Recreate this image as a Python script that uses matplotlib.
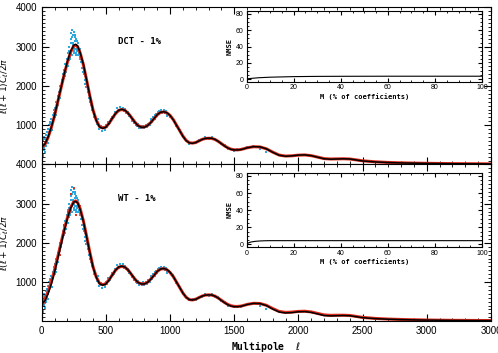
import matplotlib.pyplot as plt
from matplotlib.ticker import MultipleLocator

# theory spectrum (black)
ell = [2, 25, 50, 75, 100, 125, 150, 175, 200, 225, 250, 265, 280, 300, 325, 350, 375,
       400, 425, 450, 475, 500, 525, 550, 575, 600, 625, 650, 675, 700, 725, 750, 775,
       800, 825, 850, 875, 900, 925, 950, 975, 1000, 1025, 1050, 1075, 1100, 1125, 1150,
       1175, 1200, 1225, 1250, 1275, 1300, 1325, 1350, 1375, 1400, 1425, 1450, 1475, 1500,
       1525, 1550, 1575, 1600, 1650, 1700, 1750, 1800, 1850, 1900, 1950, 2000, 2050, 2100,
       2150, 2200, 2250, 2300, 2350, 2400, 2450, 2500, 2600, 2700, 2800, 2900, 3000, 3200, 3500]
dl_theory = [450, 520, 700, 950, 1250, 1600, 1950, 2300, 2620, 2880, 3040, 3060, 3020, 2850,
             2550, 2150, 1750, 1380, 1120, 960, 920, 950, 1050, 1180, 1300, 1385, 1405, 1380,
             1300, 1190, 1080, 990, 950, 950, 990, 1070, 1170, 1270, 1330, 1345, 1320, 1250,
             1140, 1000, 860, 720, 610, 550, 540, 560, 600, 640, 665, 672, 668, 640, 590, 530,
             470, 420, 385, 370, 370, 380, 400, 425, 455, 450, 400, 310, 235, 210, 220, 240,
             245, 225, 185, 145, 135, 140, 145, 140, 115, 90, 65, 50, 40, 33, 28, 20, 14]
# reconstructions (red)
dl_dct = [430, 510, 690, 940, 1240, 1590, 1940, 2290, 2600, 2860, 3020, 3040, 3000, 2840,
          2540, 2150, 1750, 1390, 1130, 970, 930, 955, 1050, 1175, 1295, 1380, 1400, 1375,
          1300, 1195, 1085, 995, 955, 955, 995, 1070, 1165, 1265, 1325, 1340, 1315, 1250,
          1145, 1005, 865, 725, 615, 555, 545, 560, 600, 640, 662, 668, 664, 638, 590, 532,
          474, 425, 390, 375, 372, 382, 402, 426, 452, 448, 400, 315, 240, 215, 222, 238,
          243, 225, 188, 150, 140, 143, 146, 140, 118, 94, 68, 52, 42, 35, 30, 22, 16]
dl_wt = [400, 560, 760, 1000, 1300, 1640, 1990, 2330, 2640, 2900, 3050, 3070, 3030, 2870,
         2560, 2170, 1760, 1390, 1130, 970, 930, 960, 1060, 1180, 1300, 1380, 1400, 1375,
         1300, 1190, 1080, 990, 955, 955, 995, 1075, 1170, 1270, 1330, 1340, 1315, 1245,
         1140, 1000, 860, 720, 612, 552, 542, 562, 602, 642, 666, 672, 666, 640, 592, 534,
         476, 428, 394, 378, 376, 384, 404, 428, 456, 452, 406, 322, 248, 225, 232, 250,
         254, 236, 198, 160, 150, 152, 152, 146, 122, 96, 70, 54, 44, 36, 30, 22, 16]
wt_red_ell = [60, 70, 85, 110, 140, 170, 205, 230, 250, 270, 295, 315]
wt_red_dl = [850, 1050, 1100, 1450, 1700, 2450, 2800, 3250, 3400, 2700, 2950, 2600]

# noisy data (cyan)
cyan_ell = [5, 8, 10, 12, 15, 18, 20, 22, 25, 28, 30, 33, 36, 40, 44, 48, 52, 56, 60, 65, 70,
            75, 80, 85, 90, 95, 100, 105, 110, 115, 120, 125, 130, 135, 140, 145, 150, 155,
            160, 165, 170, 175, 180, 185, 190, 195, 200, 205, 210, 215, 220, 225, 228, 232,
            235, 238, 242, 245, 248, 252, 255, 258, 262, 265, 268, 272, 275, 280, 285, 290,
            295, 300, 305, 310, 315, 320, 325, 330, 335, 340, 345, 350, 360, 370, 380, 390,
            400, 410, 420, 430, 440, 450, 460, 470, 480, 490, 500, 510, 520, 530, 540, 550,
            560, 570, 580, 590, 600, 610, 620, 630, 640, 650, 660, 670, 680, 690, 700, 710,
            720, 730, 740, 750, 760, 770, 780, 790, 800, 810, 820, 830, 840, 850, 860, 870,
            880, 890, 900, 910, 920, 930, 940, 950, 960, 970, 980, 990, 1000, 1025, 1050,
            1075, 1100, 1125, 1150, 1175, 1200, 1225, 1250, 1275, 1300, 1325, 1350, 1375,
            1400, 1425, 1450, 1475, 1500, 1525, 1550, 1600, 1650, 1700, 1750,
            3, 7, 14, 24, 34, 46, 58, 68, 82, 98, 112, 128, 142, 158, 172, 188, 202, 212,
            222, 230, 236, 240, 246, 250, 256, 260, 266, 270, 278, 288, 298, 308, 318, 328,
            338, 355, 365, 385, 405, 435, 465, 495, 525, 555, 585, 615, 645, 675, 705, 735,
            765, 795, 825, 855, 885, 915, 945, 975]
cyan_dl = [300, 620, 250, 520, 380, 700, 420, 560, 330, 640, 480, 760, 540, 820, 600, 900,
           700, 1000, 780, 1080, 900, 1150, 1000, 1250, 1100, 1380, 1200, 1450, 1330, 1600,
           1500, 1750, 1620, 1850, 1800, 2000, 1900, 2150, 2050, 2300, 2200, 2420, 2250, 2550,
           2450, 2700, 2550, 2850, 2650, 3000, 2750, 3200, 2850, 3350, 2950, 3420, 3100, 3300,
           2900, 3380, 3000, 3250, 2950, 3200, 2800, 3150, 2900, 3100, 2800, 2950, 2700, 2950,
           2600, 2800, 2450, 2600, 2350, 2450, 2150, 2250, 1980, 2100, 1850, 1700, 1600, 1400,
           1420, 1200, 1180, 1020, 1060, 900, 980, 860, 960, 880, 1000, 960, 1090, 1060, 1150,
           1220, 1210, 1340, 1300, 1430, 1360, 1460, 1380, 1450, 1360, 1420, 1320, 1340, 1240,
           1250, 1150, 1160, 1060, 1080, 980, 1020, 930, 980, 920, 990, 920, 1000, 960, 1040,
           1010, 1100, 1080, 1200, 1160, 1290, 1240, 1340, 1300, 1380, 1320, 1390, 1310, 1360,
           1280, 1290, 1220, 1170, 980, 880, 700, 630, 530, 560, 540, 620, 620, 690, 650, 700,
           620, 610, 510, 490, 400, 400, 350, 390, 370, 440, 470, 390, 320,
           500, 200, 640, 460, 680, 560, 820, 1020, 880, 1300, 1250, 1520, 1700, 2000, 2300,
           2350, 2500, 2900, 2700, 3100, 2800, 3250, 3050, 2850, 3150, 3300, 2850, 3050, 2950,
           2850, 2750, 2700, 2550, 2300, 2050, 2000, 1780, 1520, 1300, 1150, 920, 920, 1030,
           1180, 1330, 1420, 1400, 1280, 1120, 1000, 940, 960, 1040, 1150, 1260, 1370, 1350,
           1240]

# NMSE insets
m_dct = [0, 0.2, 1, 5, 10, 20, 30, 40, 60, 100]
nmse_dct = [90, 0.3, 0.8, 1.8, 2.5, 3.2, 3.5, 3.6, 3.7, 3.7]
m_wt = [0, 0.2, 1, 2, 4, 6, 8, 10, 20, 100]
nmse_wt = [90, 0.8, 2.0, 2.9, 3.7, 4.1, 4.3, 4.4, 4.4, 4.4]

panels = [("DCT - 1%", dl_dct, None, None, m_dct, nmse_dct),
          ("WT - 1%", dl_wt, wt_red_ell, wt_red_dl, m_wt, nmse_wt)]

plt.rcParams['font.family'] = 'Liberation Sans'
fig = plt.figure(figsize=(4.98, 3.53), dpi=100)

main_pos = [[0.0837, 0.534, 0.9022, 0.4448], [0.0837, 0.0901, 0.9022, 0.4439]]
inset_pos = [[0.495, 0.7686, 0.473, 0.2011], [0.495, 0.3003, 0.473, 0.211]]

for i, (name, red, rx, ry, m, nmse) in enumerate(panels):
    ax = fig.add_axes(main_pos[i])
    ax.scatter(cyan_ell, cyan_dl, s=2.5, color='#2aa8e0', marker='s', linewidths=0, zorder=1)
    if rx is not None:
        ax.scatter(rx, ry, s=2.5, color='#e83020', marker='s', linewidths=0, zorder=1)
    ax.plot(ell, red, color='#e02a1a', lw=2.2, zorder=2)
    ax.plot(ell, dl_theory, color='black', lw=1.1, zorder=3)
    ax.set_xlim(0, 3500)
    ax.set_ylim(0, 4000)
    ax.set_yticks([1000, 2000, 3000, 4000])
    ax.set_xticks(range(0, 3501, 500))
    ax.xaxis.set_minor_locator(MultipleLocator(100))
    ax.yaxis.set_minor_locator(MultipleLocator(100))
    ax.tick_params(which='both', direction='in', top=True, right=True, labelsize=7)
    ax.tick_params(which='major', length=5)
    ax.tick_params(which='minor', length=2.5)
    ax.set_ylabel(r'$\ell(\ell+1)C_\ell/2\pi$', fontsize=6.5)
    ax.yaxis.set_label_coords(-0.068, 0.5)
    ax.text(0.17, 0.765, name, transform=ax.transAxes, fontsize=6.5,
            family='DejaVu Sans Mono', fontweight='bold')
    if i == 0:
        ax.set_xticklabels([])
    else:
        ax.set_xticklabels(['0', '500', '1000', '1500', '2000', '2500', '3000', '3000'])
        ax.set_xlabel(r'Multipole  $\ell$', fontsize=7, labelpad=2,
                      family='DejaVu Sans Mono', fontweight='bold')

    ins = fig.add_axes(inset_pos[i])
    ins.plot(m, nmse, color='black', lw=0.8)
    ins.set_xlim(0, 100)
    ins.set_ylim(-3, 84)
    ins.set_xticks(range(0, 101, 20))
    ins.set_yticks(range(0, 81, 20))
    ins.xaxis.set_minor_locator(MultipleLocator(5))
    ins.yaxis.set_minor_locator(MultipleLocator(5))
    ins.tick_params(which='both', direction='in', top=True, right=True, labelsize=5, pad=2)
    ins.tick_params(which='major', length=3)
    ins.tick_params(which='minor', length=1.5)
    ins.set_xlabel('M (% of coefficients)', fontsize=5, labelpad=1,
                   family='DejaVu Sans Mono', fontweight='bold')
    ins.set_ylabel('NMSE', fontsize=5, labelpad=2, family='DejaVu Sans Mono', fontweight='bold')

fig.savefig('out.png', dpi=100)
